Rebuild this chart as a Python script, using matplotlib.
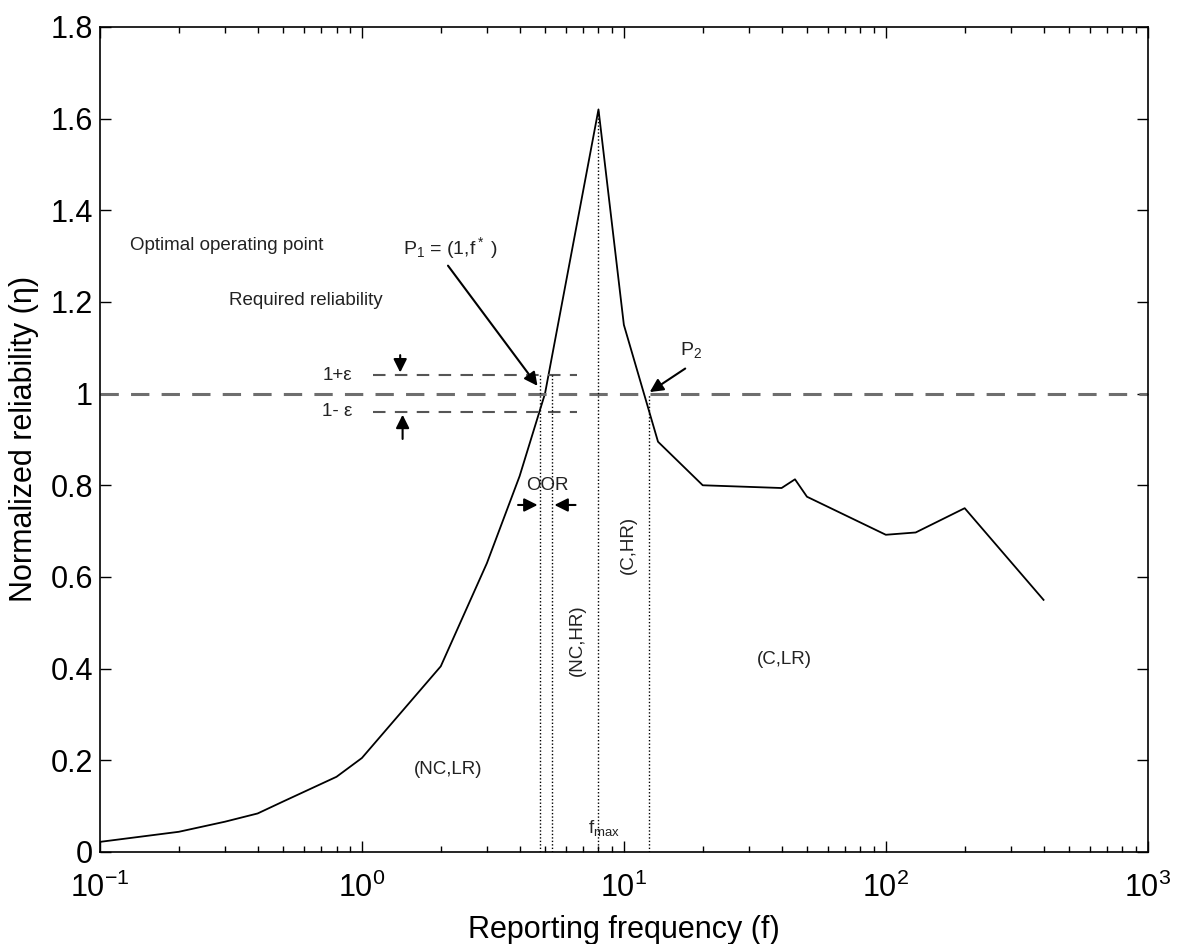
import matplotlib
matplotlib.use("Agg")
import matplotlib.pyplot as plt
from matplotlib.ticker import FuncFormatter, LogLocator

plt.rcParams['font.family'] = ['Liberation Sans', 'DejaVu Sans']
plt.rcParams['mathtext.fontset'] = 'custom'
plt.rcParams['mathtext.rm'] = 'Liberation Sans'
plt.rcParams['mathtext.it'] = 'Liberation Sans'

# reliability curve
freq = [0.1, 0.2, 0.3, 0.4, 0.5, 0.8, 1, 2, 3, 4, 5, 8, 10, 13.5, 20, 40, 45, 50, 100, 130, 200, 400]
eta = [0.022, 0.044, 0.066, 0.084, 0.11, 0.164, 0.205, 0.405, 0.63, 0.82, 1.0, 1.62,
       1.15, 0.895, 0.80, 0.794, 0.813, 0.775, 0.692, 0.697, 0.75, 0.55]

eps = 0.04
f_low, f_high = 4.8, 5.3      # bounds of the optimal operating region
f_max, eta_max = 8.0, 1.62
f_p2 = 12.5

fig = plt.figure(figsize=(11.8, 9.44), dpi=100)
ax = fig.add_axes([0.0847, 0.0975, 0.888, 0.874])

ax.plot(freq, eta, color='black', lw=1.3)

# required reliability and tolerance band
ref, = ax.plot([0.1, 1000], [1, 1], color='#6e6e6e', lw=2.2)
ref.set_dashes((6, 4))
for lvl in (1 + eps, 1 - eps):
    l, = ax.plot([1.1, 6.6], [lvl, lvl], color='#555555', lw=1.5)
    l.set_dashes((6, 4.5))

# region boundaries
dot = dict(color='black', lw=1.0, ls=(0, (1, 1.5)))
ax.plot([f_low, f_low], [0, 1 + eps], **dot)
ax.plot([f_high, f_high], [0, 1 + eps], **dot)
ax.plot([f_max, f_max], [0, eta_max], **dot)
ax.plot([f_p2, f_p2], [0, 1.0], **dot)

ax.set_xscale('log')
ax.set_xlim(0.1, 1000)
ax.set_ylim(0, 1.8)
ax.set_yticks([0, 0.2, 0.4, 0.6, 0.8, 1, 1.2, 1.4, 1.6, 1.8])
ax.yaxis.set_major_formatter(FuncFormatter(lambda v, p: '%g' % v))
ax.xaxis.set_major_locator(LogLocator(base=10, numticks=10))
ax.xaxis.set_minor_locator(LogLocator(base=10, subs=range(2, 10), numticks=20))
ax.tick_params(which='both', direction='in', top=True, right=True, labelsize=22, width=1)
ax.tick_params(which='major', length=8)
ax.tick_params(which='minor', length=4)
ax.tick_params(axis='x', which='major', pad=15)
ax.tick_params(axis='y', which='major', pad=5)
for s in ax.spines.values():
    s.set_linewidth(1.2)

ax.set_xlabel('Reporting frequency (f)', fontsize=22, labelpad=8)
ax.set_ylabel('Normalized reliability (\u03b7)', fontsize=22, labelpad=8)

fs = 13.5
tc = '#222222'
arrow = dict(arrowstyle='-|>', color='black', lw=1.5, mutation_scale=20)
ax.text(0.13, 1.324, 'Optimal operating point', fontsize=fs, va='center', color=tc)
ax.text(1.43, 1.318, r'P$_1$ = (1,f$^*$ )', fontsize=fs + 0.5, va='center', color=tc)
ax.annotate('', xy=(4.75, 1.012), xytext=(2.1, 1.284), arrowprops=arrow)

ax.text(0.31, 1.204, 'Required reliability', fontsize=fs, va='center', color=tc)
ax.annotate('', xy=(1.40, 1 + eps), xytext=(1.40, 1.09), arrowprops=arrow)
ax.annotate('', xy=(1.43, 1 - eps), xytext=(1.43, 0.895), arrowprops=arrow)
ax.text(0.92, 1 + eps, '1+\u03b5', fontsize=fs, va='center', ha='right', color=tc)
ax.text(0.92, 1 - eps, '1- \u03b5', fontsize=fs, va='center', ha='right', color=tc)

ax.text(16.4, 1.095, r'P$_2$', fontsize=fs + 0.5, va='center', color=tc)
ax.annotate('', xy=(12.3, 1.0), xytext=(17.5, 1.058), arrowprops=arrow)

ax.text(5.1, 0.80, 'OOR', fontsize=fs, va='center', ha='center', color=tc)
ax.annotate('', xy=(f_low, 0.757), xytext=(3.85, 0.757), arrowprops=arrow)
ax.annotate('', xy=(f_high, 0.757), xytext=(6.7, 0.757), arrowprops=arrow)

ax.text(6.66, 0.463, '(NC,HR)', fontsize=fs, rotation=90, va='center', ha='center', color=tc)
ax.text(10.4, 0.67, '(C,HR)', fontsize=fs, rotation=90, va='center', ha='center', color=tc)
ax.text(41, 0.419, '(C,LR)', fontsize=fs, va='center', ha='center', color=tc)
ax.text(2.13, 0.179, '(NC,LR)', fontsize=fs, va='center', ha='center', color=tc)
ax.text(8.4, 0.052, r'f$_{max}$', fontsize=fs, va='center', ha='center', color=tc)

fig.savefig('out.png', dpi=100, facecolor='white')
